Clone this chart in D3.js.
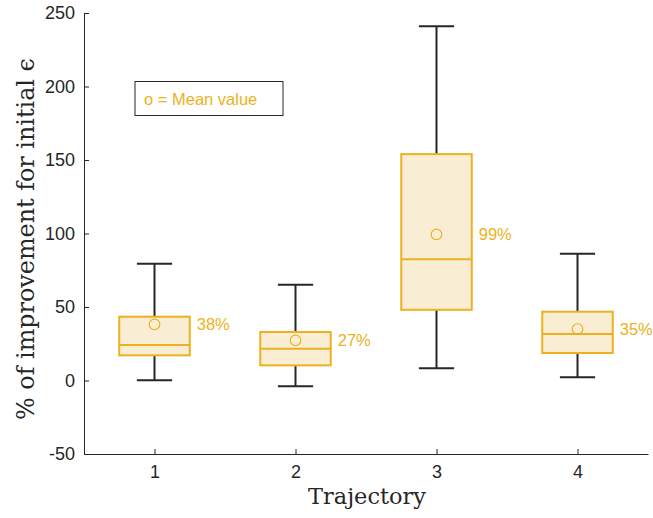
<!DOCTYPE html>
<html><head><meta charset="utf-8">
<script src="https://cdn.jsdelivr.net/npm/d3@7"></script>
<style>body{margin:0;background:#fff}svg{display:block}</style>
</head><body>
<svg id="c" width="653" height="518"></svg>
<script>
const categories = [1, 2, 3, 4];
const whiskerLow  = [0.1, -3.9, 8.3, 2.2];
const q1          = [17.1, 10.3, 48.1, 18.7];
const median      = [24.1, 21.6, 82.4, 31.6];
const q3          = [43.4, 33.0, 154, 46.8];
const whiskerHigh = [79.4, 65.1, 241, 86.2];
const means       = [38.2, 27.3, 99.4, 35.0];
const meanLabels  = ["38%", "27%", "99%", "35%"];
const yTicks = [-50, 0, 50, 100, 150, 200, 250];

const svg = d3.select("#c");
const x = d3.scaleLinear().domain([0.5, 4.5]).range([84, 648]);
const y = d3.scaleLinear().domain([-50, 250]).range([454, 13]);
const orange = "#EDB120", fill = "#F9EED3", dark = "#262626";
const font = "'Liberation Sans', Arial, sans-serif";
const serif = "'DejaVu Serif', 'Liberation Serif', serif";

// axes
const yAxis = d3.axisLeft(y).tickValues(yTicks).tickFormat(d => String(d)).tickSizeInner(-5).tickSizeOuter(0).tickPadding(9);
const gy = svg.append("g").attr("transform", `translate(${x.range()[0]},0)`).call(yAxis);
const xAxis = d3.axisBottom(x).tickValues(categories).tickFormat(d => String(d)).tickSizeInner(-5).tickSizeOuter(0).tickPadding(11);
const gx = svg.append("g").attr("transform", `translate(0,${y.range()[0]})`).call(xAxis);
[gx, gy].forEach(g => {
  g.select(".domain").attr("stroke", dark).attr("stroke-width", 1);
  g.selectAll(".tick line").attr("stroke", dark);
  g.selectAll(".tick text").attr("fill", dark).attr("font-family", font).attr("font-size", 18);
});

const bw = 0.25, cw = 0.125;
const data = categories.map((c, i) => ({c, i}));
const g = svg.append("g");
data.forEach(({c, i}) => {
  g.append("line").attr("x1", x(c)).attr("x2", x(c)).attr("y1", y(q3[i])).attr("y2", y(whiskerHigh[i])).attr("stroke", dark).attr("stroke-width", 2);
  g.append("line").attr("x1", x(c)).attr("x2", x(c)).attr("y1", y(q1[i])).attr("y2", y(whiskerLow[i])).attr("stroke", dark).attr("stroke-width", 2);
  g.append("line").attr("x1", x(c - cw)).attr("x2", x(c + cw)).attr("y1", y(whiskerHigh[i])).attr("y2", y(whiskerHigh[i])).attr("stroke", dark).attr("stroke-width", 2);
  g.append("line").attr("x1", x(c - cw)).attr("x2", x(c + cw)).attr("y1", y(whiskerLow[i])).attr("y2", y(whiskerLow[i])).attr("stroke", dark).attr("stroke-width", 2);
  g.append("rect").attr("x", x(c - bw)).attr("width", x(c + bw) - x(c - bw))
    .attr("y", y(q3[i])).attr("height", y(q1[i]) - y(q3[i]))
    .attr("fill", fill).attr("stroke", orange).attr("stroke-width", 2);
  g.append("line").attr("x1", x(c - bw)).attr("x2", x(c + bw)).attr("y1", y(median[i])).attr("y2", y(median[i])).attr("stroke", orange).attr("stroke-width", 2);
  g.append("circle").attr("cx", x(c)).attr("cy", y(means[i])).attr("r", 5.3).attr("fill", "none").attr("stroke", orange).attr("stroke-width", 1.2);
  g.append("text").attr("x", x(c + bw) + 7).attr("y", y(means[i])).attr("dy", "0.36em")
    .attr("fill", orange).attr("font-family", font).attr("font-size", 16.5).text(meanLabels[i]);
});

// legend
svg.append("rect").attr("x", 135).attr("y", 81.5).attr("width", 148).attr("height", 34).attr("fill", "#fff").attr("stroke", dark).attr("stroke-width", 1);
svg.append("text").attr("x", 144).attr("y", 99).attr("dy", "0.36em").attr("fill", orange).attr("font-family", font).attr("font-size", 16.5).text("o = Mean value");

// axis labels
function fitText(sel, target) {
  const fs = +sel.attr("font-size");
  const len = sel.node().getComputedTextLength();
  if (len > 0) sel.attr("font-size", fs * target / len);
}
const yl = svg.append("text").attr("transform", "translate(34,239) rotate(-90)").attr("text-anchor", "middle")
  .attr("font-family", serif).attr("font-size", 20).attr("fill", dark)
  .text("% of improvement for initial ϵ");
fitText(yl, 362);
const xl = svg.append("text").attr("x", 367).attr("y", 504).attr("text-anchor", "middle")
  .attr("font-family", serif).attr("font-size", 20).attr("fill", dark)
  .text("Trajectory");
fitText(xl, 118);
</script>
</body></html>
